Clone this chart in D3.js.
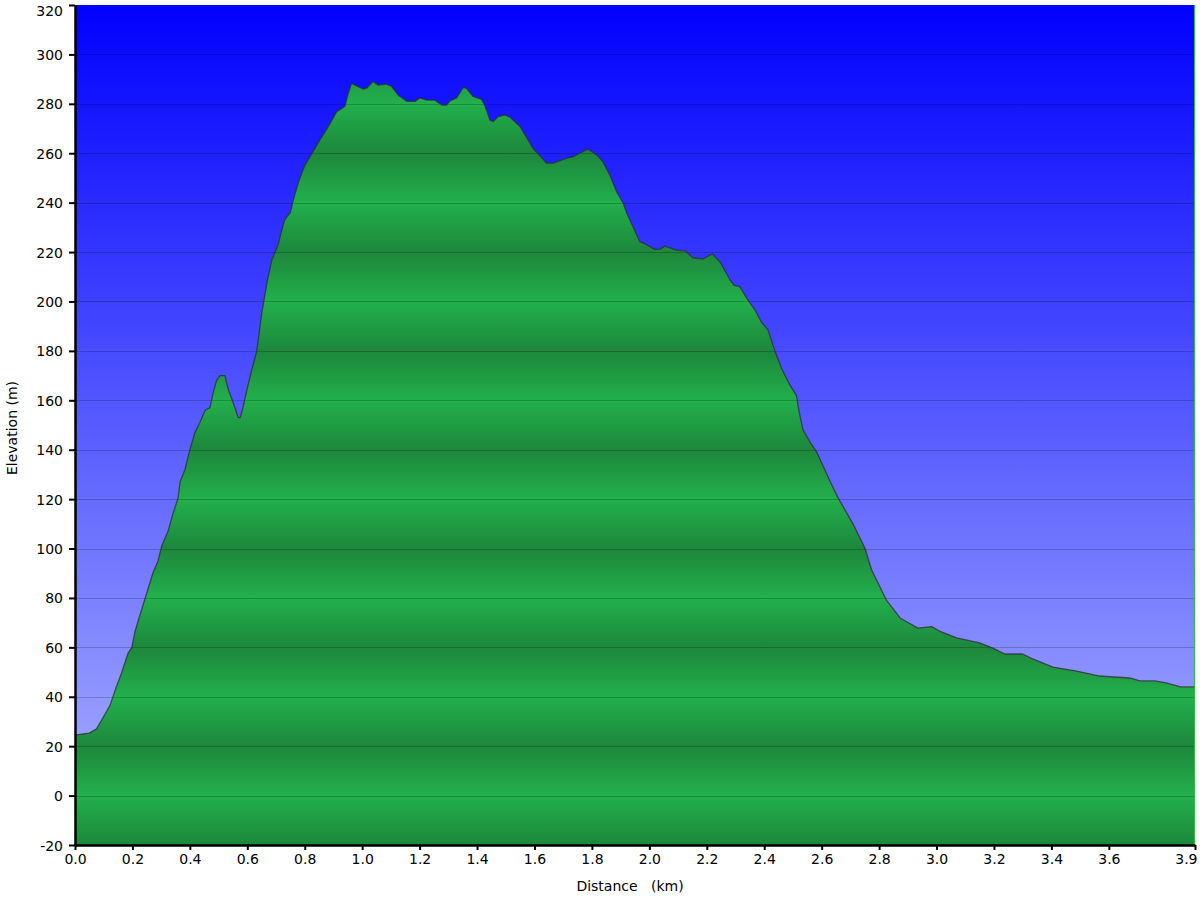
<!DOCTYPE html>
<html>
<head>
<meta charset="utf-8">
<script src="https://cdn.jsdelivr.net/npm/d3@7/dist/d3.min.js"></script>
<style>
  body { margin: 0; background: #fff; }
  svg { display: block; }
  text { font-family: "DejaVu Sans", Verdana, sans-serif; }
</style>
</head>
<body>
<svg id="chart" width="1200" height="900"></svg>
<script>
// ---- data (distance in km, elevation in m) ----
const distance = [
  0.000, 0.030, 0.050, 0.075, 0.093, 0.122, 0.140, 0.162, 0.185, 0.198,
  0.208, 0.226, 0.250, 0.271, 0.289, 0.302, 0.324, 0.341, 0.359, 0.366,
  0.383, 0.400, 0.418, 0.435, 0.453, 0.470, 0.481, 0.493, 0.505, 0.522,
  0.532, 0.557, 0.568, 0.575, 0.585, 0.598, 0.615, 0.633, 0.650, 0.669,
  0.686, 0.707, 0.730, 0.750, 0.760, 0.780, 0.800, 0.818, 0.853, 0.888,
  0.911, 0.928, 0.940, 0.951, 0.963, 0.975, 1.003, 1.016, 1.038, 1.055,
  1.085, 1.103, 1.125, 1.155, 1.184, 1.201, 1.225, 1.253, 1.277, 1.294,
  1.306, 1.329, 1.352, 1.364, 1.386, 1.416, 1.428, 1.445, 1.456, 1.473,
  1.497, 1.515, 1.550, 1.595, 1.642, 1.665, 1.712, 1.735, 1.758, 1.786,
  1.817, 1.839, 1.863, 1.886, 1.908, 1.921, 1.943, 1.967, 1.990, 2.019,
  2.037, 2.054, 2.095, 2.124, 2.152, 2.187, 2.199, 2.220, 2.246, 2.281,
  2.295, 2.315, 2.343, 2.368, 2.390, 2.413, 2.437, 2.460, 2.490, 2.512,
  2.522, 2.535, 2.560, 2.583, 2.630, 2.657, 2.709, 2.751, 2.774, 2.826, 2.873,
  2.935, 2.983, 3.010, 3.070, 3.150, 3.196, 3.238, 3.300, 3.335, 3.405,
  3.488, 3.568, 3.673, 3.708, 3.760, 3.800, 3.850, 3.900
];
const elevation = [
  24.5, 25.0, 25.3, 27.0, 30.6, 36.5, 42.7, 49.6, 57.7, 60.0,
  66.0, 73.0, 82.0, 90.0, 95.0, 101.0, 107.0, 114.0, 120.5, 127.0,
  132.0, 140.0, 147.0, 151.0, 156.0, 157.0, 163.0, 168.0, 170.0, 170.0,
  165.0, 157.0, 153.0, 153.0, 157.0, 164.0, 172.0, 180.0, 195.0, 208.0,
  217.0, 223.0, 233.0, 236.0, 241.0, 249.0, 255.0, 258.6, 265.4, 272.0,
  276.8, 278.0, 279.0, 284.0, 288.3, 287.6, 286.0, 286.4, 289.0, 287.6,
  288.0, 287.0, 283.6, 281.0, 281.0, 282.4, 281.5, 281.5, 279.5, 279.5,
  281.2, 282.4, 286.7, 286.2, 283.0, 281.8, 279.0, 273.4, 272.8, 274.8,
  275.5, 274.6, 270.8, 262.0, 256.0, 256.0, 258.0, 258.6, 260.0, 261.7,
  259.3, 256.5, 251.0, 244.4, 240.0, 235.8, 230.3, 224.2, 223.0, 221.1,
  221.2, 222.4, 220.8, 220.5, 217.7, 217.2, 218.0, 219.2, 216.1, 208.7,
  206.5, 206.0, 200.6, 196.5, 191.7, 188.5, 180.0, 173.0, 166.0, 162.0,
  155.0, 148.0, 143.0, 139.0, 127.0, 120.5, 110.0, 100.0, 91.3, 79.0, 71.9,
  67.8, 68.4, 66.6, 63.8, 61.8, 59.7, 57.3, 57.3, 55.3, 52.0,
  50.4, 48.4, 47.6, 46.4, 46.4, 45.6, 44.0, 44.0
];
const yTicks = [-20, 0, 20, 40, 60, 80, 100, 120, 140, 160, 180, 200, 220, 240, 260, 280, 300, 320];
const xTicks = [0.0, 0.2, 0.4, 0.6, 0.8, 1.0, 1.2, 1.4, 1.6, 1.8, 2.0, 2.2, 2.4, 2.6, 2.8, 3.0, 3.2, 3.4, 3.6, 3.9];
const xTitle = "Distance   (km)";
const yTitle = "Elevation (m)";

// ---- layout ----
const L = 75, R = 1195, T = 5, B = 845;
const svg = d3.select("#chart");
const x = d3.scaleLinear().domain([0, 3.9]).range([L, R]);
const y = d3.scaleLinear().domain([-20, 320]).range([B, T]);

const defs = svg.append("defs");
const bg = defs.append("linearGradient").attr("id", "bg")
  .attr("gradientUnits", "userSpaceOnUse")
  .attr("x1", 0).attr("x2", 0).attr("y1", T).attr("y2", B);
bg.append("stop").attr("offset", 0).attr("stop-color", "#0000ff");
bg.append("stop").attr("offset", 1).attr("stop-color", "#aeb6ff");

const gr = defs.append("linearGradient").attr("id", "grn")
  .attr("gradientUnits", "userSpaceOnUse")
  .attr("spreadMethod", "repeat")
  .attr("x1", 0).attr("x2", 0).attr("y1", y(40)).attr("y2", y(0));
gr.append("stop").attr("offset", 0).attr("stop-color", "#22b04c");
gr.append("stop").attr("offset", 0.5).attr("stop-color", "#1d873c");
gr.append("stop").attr("offset", 1).attr("stop-color", "#22b04c");

// background
svg.append("rect").attr("x", L).attr("y", T).attr("width", R - L).attr("height", B - T)
  .attr("fill", "url(#bg)");

const pts = distance.map((d, i) => [d, elevation[i]]);
const area = d3.area().x(d => x(d[0])).y0(y(-20)).y1(d => y(d[1]));
const line = d3.line().x(d => x(d[0])).y(d => y(d[1]));

svg.append("path").datum(pts).attr("d", area).attr("fill", "url(#grn)");

// gridlines
svg.append("g").selectAll("line").data(yTicks.filter(v => v > -20 && v < 320)).join("line")
  .attr("x1", L).attr("x2", R)
  .attr("y1", d => Math.round(y(d)) + 0.5).attr("y2", d => Math.round(y(d)) + 0.5)
  .attr("stroke", "#000").attr("stroke-opacity", 0.2).attr("stroke-width", 1);

svg.append("path").datum(pts).attr("d", line)
  .attr("fill", "none").attr("stroke", "#2e2e2e").attr("stroke-opacity", 0.75)
  .attr("stroke-width", 1.3).attr("stroke-linejoin", "round");

// right end marker
svg.append("line").attr("x1", R - 0.5).attr("x2", R - 0.5).attr("y1", T).attr("y2", B)
  .attr("stroke", "#27c23a").attr("stroke-width", 1);

// axes
const yAxis = svg.append("g").attr("transform", `translate(${L},0)`)
  .call(d3.axisLeft(y).tickValues(yTicks).tickSize(6).tickSizeOuter(0).tickPadding(6).tickFormat(d => String(d)));
const xAxis = svg.append("g").attr("transform", `translate(0,${B})`)
  .call(d3.axisBottom(x).tickValues(xTicks).tickSize(5).tickSizeOuter(0).tickPadding(4).tickFormat(d => d.toFixed(1)));
[yAxis, xAxis].forEach(g => {
  g.select(".domain").attr("stroke", "#000").attr("stroke-width", 2.5);
  g.selectAll(".tick line").attr("stroke", "#000").attr("stroke-width", 2);
  g.selectAll(".tick text").attr("fill", "#000").style("font-size", "14px")
    .style("font-family", '"DejaVu Sans", Verdana, sans-serif');
});
yAxis.selectAll(".tick text").attr("dy", d => d === 320 ? "0.75em" : "0.36em");
xAxis.selectAll(".tick text").filter(d => d === 3.9).attr("text-anchor", "end").attr("dx", 2);

svg.append("text").attr("x", 630).attr("y", 891).attr("text-anchor", "middle")
  .style("font-size", "14px").style("white-space", "pre").attr("xml:space", "preserve")
  .text(xTitle);
svg.append("text").attr("transform", "translate(17,428) rotate(-90)").attr("text-anchor", "middle")
  .style("font-size", "14px").text(yTitle);
</script>
</body>
</html>
